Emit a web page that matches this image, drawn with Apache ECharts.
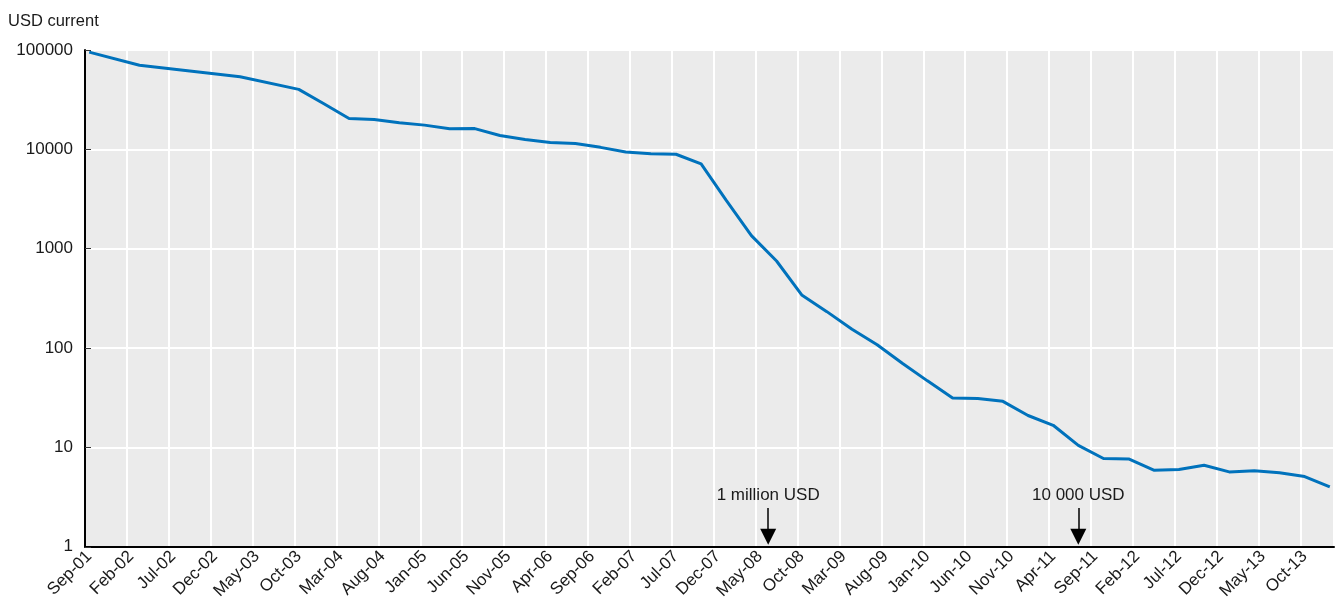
<!DOCTYPE html>
<html>
<head>
<meta charset="utf-8">
<script src="https://cdn.jsdelivr.net/npm/echarts@6/dist/echarts.min.js"></script>
<style>
  html, body { margin: 0; padding: 0; background: #fff; }
</style>
</head>
<body>
<div id="main" style="width: 1338px;height:602px;"></div>
<script>
    // monthly categories, Sep-01 .. Jan-14
    var monthNames = ['Jan','Feb','Mar','Apr','May','Jun','Jul','Aug','Sep','Oct','Nov','Dec'];
    var months = [];
    for (var y = 2001, m = 8; y < 2014 || (y === 2014 && m === 0); ) {
        months.push(monthNames[m] + '-' + String(y).slice(2));
        m++;
        if (m === 12) { m = 0; y++; }
    }

    // dates of the observations
    var dates = ['Sep-01','Mar-02','Sep-02','Mar-03','Oct-03','Jan-04','Apr-04','Jul-04','Oct-04',
        'Jan-05','Apr-05','Jul-05','Oct-05','Jan-06','Apr-06','Jul-06','Oct-06',
        'Jan-07','Apr-07','Jul-07','Oct-07','Jan-08','Apr-08','Jul-08','Oct-08',
        'Jan-09','Apr-09','Jul-09','Oct-09','Jan-10','Apr-10','Jul-10','Oct-10',
        'Jan-11','Apr-11','Jul-11','Oct-11','Jan-12','Apr-12','Jul-12','Oct-12',
        'Jan-13','Apr-13','Jul-13','Oct-13','Jan-14'];

    // cost, thousand USD current
    var cost = [95263, 70175, 61448, 53752, 40158, 28780, 20443, 19934, 18519,
        17535, 16160, 16180, 13801, 12586, 11733, 11455, 10475,
        9409, 9047, 8927, 7148, 3064, 1353, 752.1, 342.5,
        232.7, 154.7, 108.1, 70.33, 46.77, 31.51, 31.13, 29.09,
        20.96, 16.71, 10.50, 7.743, 7.666, 5.901, 5.985, 6.618,
        5.671, 5.826, 5.550, 5.096, 4.008];

    // annotations: [month, text]
    var notes = [['Jun-08', '1 million USD'], ['Jul-11', '10 000 USD']];

    var font = "'Liberation Sans', Arial, sans-serif";
    var textColor = '#1a1a1a';

    var myChart = echarts.init(document.getElementById('main'));

    var seriesData = dates.map(function (d, i) {
        return [d, cost[i]];
    });

    var noteLines = notes.map(function (n) {
        return [
            { coord: [n[0], 2.45], label: { formatter: n[1] } },
            { coord: [n[0], 1.26] }
        ];
    });

    var option = {
        animation: false,
        title: {
            text: 'USD current',
            left: 3,
            top: 8,
            textStyle: { fontFamily: font, fontSize: 16.5, fontWeight: 'normal', color: textColor }
        },
        grid: {
            left: 85,
            top: 50,
            width: 1249,
            height: 497,
            show: true,
            backgroundColor: '#ebebeb',
            borderWidth: 0
        },
        xAxis: {
            type: 'category',
            data: months,
            boundaryGap: true,
            axisLine: { lineStyle: { color: '#000', width: 2 } },
            axisTick: { inside: true, length: 7, interval: 4, lineStyle: { color: '#333', width: 1 } },
            axisLabel: {
                interval: 4,
                rotate: 45,
                margin: 7,
                fontFamily: font,
                fontSize: 17,
                color: textColor
            },
            splitLine: { show: true, interval: 4, lineStyle: { color: '#fff', width: 2 } }
        },
        yAxis: {
            type: 'log',
            logBase: 10,
            min: 1,
            max: 100000,
            axisLine: { show: true, lineStyle: { color: '#000', width: 2 } },
            axisTick: { show: true, inside: true, length: 6, lineStyle: { color: '#333' } },
            axisLabel: {
                margin: 12,
                fontFamily: font,
                fontSize: 17,
                color: textColor,
                formatter: function (v) { return String(Math.round(v)); }
            },
            splitLine: { show: true, lineStyle: { color: '#fff', width: 2 } }
        },
        series: [{
            name: 'Cost',
            type: 'line',
            data: seriesData,
            showSymbol: false,
            symbol: 'none',
            lineStyle: { color: '#0072bc', width: 3 },
            markLine: {
                silent: true,
                symbol: ['none', 'triangle'],
                symbolSize: [16, 16],
                lineStyle: { color: '#000', type: 'solid', width: 1.5 },
                label: {
                    position: 'start',
                    distance: 4,
                    fontFamily: font,
                    fontSize: 17,
                    color: textColor
                },
                data: noteLines
            }
        }]
    };
    myChart.setOption(option);
</script>
</body>
</html>
